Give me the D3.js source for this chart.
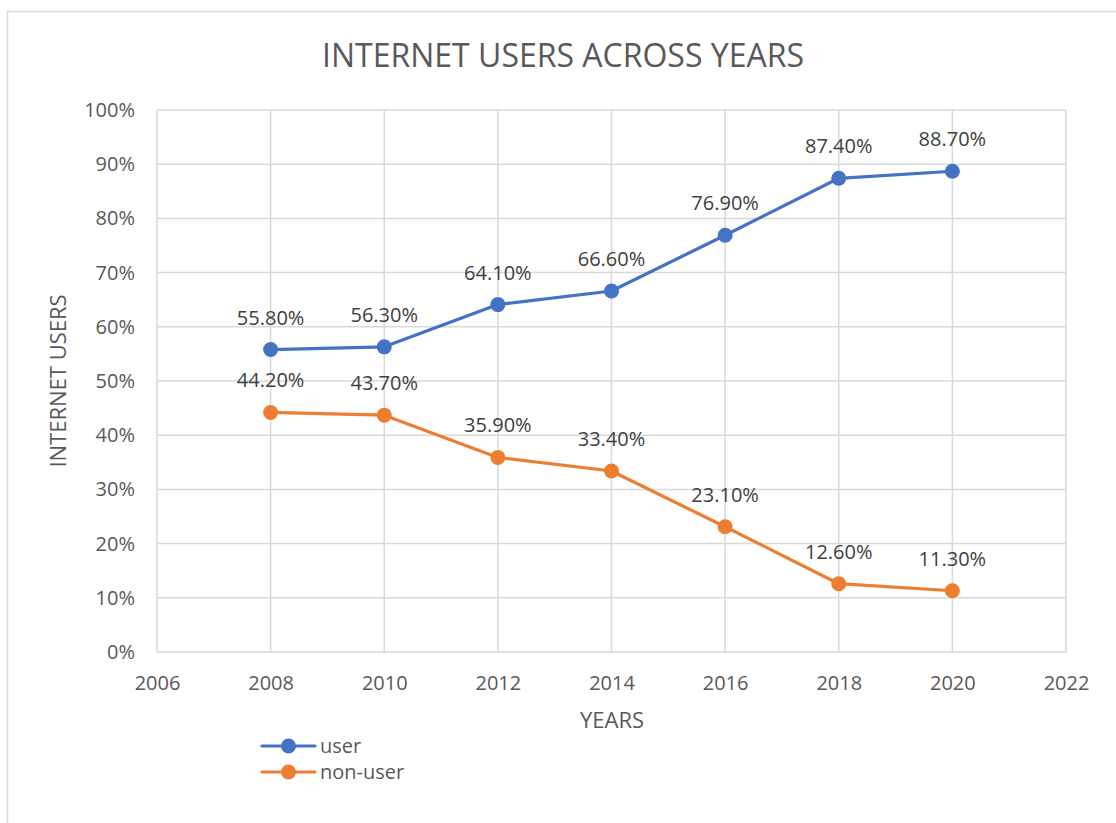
<!DOCTYPE html>
<html>
<head>
<meta charset="utf-8">
<script src="https://cdn.jsdelivr.net/npm/d3@7"></script>
<style>
  body { margin: 0; background: #fff; }
  text { font-family: "Open Sans", sans-serif; }
</style>
</head>
<body>
<div id="chart"></div>
<script>
// data
var years = [2008, 2010, 2012, 2014, 2016, 2018, 2020]
var userPct = [55.8, 56.3, 64.1, 66.6, 76.9, 87.4, 88.7]
var nonUserPct = [44.2, 43.7, 35.9, 33.4, 23.1, 12.6, 11.3]
var seriesNames = ["user", "non-user"]
var seriesColors = ["#4472C4", "#ED7D31"]
var xTicks = [2006, 2008, 2010, 2012, 2014, 2016, 2018, 2020, 2022]
var yTicks = [0, 10, 20, 30, 40, 50, 60, 70, 80, 90, 100]

var W = 1116, H = 823
var margin = {top: 110, right: 50, bottom: 171, left: 157},
    width = 1066 - margin.left,
    height = 652 - margin.top

var svg = d3.select("#chart")
    .append("svg")
    .attr("width", W)
    .attr("height", H)

// chart frame
svg.append("rect")
    .attr("x", 7.5).attr("y", 11.5)
    .attr("width", W + 20).attr("height", H + 20)
    .attr("fill", "none")
    .attr("stroke", "#D9D9D9")
    .attr("stroke-width", 1.5)

var g = svg.append("g")
    .attr("transform", "translate(" + margin.left + "," + margin.top + ")")

var x = d3.scaleLinear().domain([2006, 2022]).range([0, width])
var y = d3.scaleLinear().domain([0, 100]).range([height, 0])

// gridlines
g.append("g").selectAll("line")
    .data(yTicks)
    .enter().append("line")
    .attr("x1", 0).attr("x2", width)
    .attr("y1", d => y(d)).attr("y2", d => y(d))
    .attr("stroke", "#D9D9D9").attr("stroke-width", 1.5)

g.append("g").selectAll("line")
    .data(xTicks)
    .enter().append("line")
    .attr("x1", d => x(d)).attr("x2", d => x(d))
    .attr("y1", 0).attr("y2", height)
    .attr("stroke", "#D9D9D9").attr("stroke-width", 1.5)

// axes (labels only, Excel style)
var xAxis = g.append("g")
    .attr("transform", "translate(0," + height + ")")
    .call(d3.axisBottom(x).tickValues(xTicks).tickFormat(d3.format("d")).tickSize(0).tickPadding(24))
xAxis.select(".domain").remove()
xAxis.selectAll("text")
    .style("font-family", "Open Sans")
    .style("font-size", "20px")
    .attr("fill", "#595959")

var yAxis = g.append("g")
    .call(d3.axisLeft(y).tickValues(yTicks).tickFormat(d => d + "%").tickSize(0).tickPadding(22))
yAxis.select(".domain").remove()
yAxis.selectAll("text")
    .style("font-family", "Open Sans")
    .style("font-size", "20px")
    .attr("fill", "#595959")

// series
var series = [userPct, nonUserPct]
var line = d3.line()
    .x((d, i) => x(years[i]))
    .y(d => y(d))

series.forEach(function (vals, s) {
    g.append("path")
        .datum(vals)
        .attr("d", line)
        .attr("fill", "none")
        .attr("stroke", seriesColors[s])
        .attr("stroke-width", 3.2)
        .attr("stroke-linejoin", "round")
        .attr("stroke-linecap", "round")

    g.append("g").selectAll("circle")
        .data(vals)
        .enter().append("circle")
        .attr("cx", (d, i) => x(years[i]))
        .attr("cy", d => y(d))
        .attr("r", 7.5)
        .attr("fill", seriesColors[s])

    g.append("g").selectAll("text")
        .data(vals)
        .enter().append("text")
        .attr("x", (d, i) => x(years[i]))
        .attr("y", d => y(d) - 25)
        .attr("text-anchor", "middle")
        .attr("font-size", "20px")
        .attr("fill", "#404040")
        .text(d => d.toFixed(2) + "%")
})

// title
svg.append("text")
    .attr("x", 563).attr("y", 67)
    .attr("text-anchor", "middle")
    .attr("font-size", "32px")
    .attr("fill", "#595959")
    .text("INTERNET USERS ACROSS YEARS")

// axis titles
svg.append("text")
    .attr("transform", "translate(66,381) rotate(-90)")
    .attr("text-anchor", "middle")
    .attr("font-size", "22px")
    .attr("fill", "#595959")
    .text("INTERNET USERS")

svg.append("text")
    .attr("x", 612).attr("y", 728)
    .attr("text-anchor", "middle")
    .attr("font-size", "22px")
    .attr("fill", "#595959")
    .text("YEARS")

// legend
var legend = svg.append("g")
    .selectAll("g")
    .data(seriesNames)
    .enter().append("g")
    .attr("transform", (d, i) => "translate(262," + (746 + i * 26) + ")")

legend.append("line")
    .attr("x1", 0).attr("x2", 53)
    .attr("stroke", (d, i) => seriesColors[i])
    .attr("stroke-width", 3.2)
    .attr("stroke-linecap", "round")
legend.append("circle")
    .attr("cx", 26.5).attr("r", 7.5)
    .attr("fill", (d, i) => seriesColors[i])
legend.append("text")
    .attr("x", 58).attr("y", 7)
    .attr("font-size", "20px")
    .attr("fill", "#595959")
    .text(d => d)
</script>
</body>
</html>
